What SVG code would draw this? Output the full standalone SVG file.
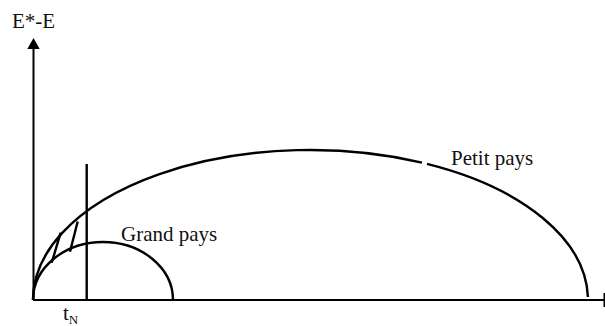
<svg xmlns="http://www.w3.org/2000/svg" width="605" height="326" viewBox="0 0 605 326">
  <style>
    .ln { fill: none; stroke: #000; stroke-width: 2.4; stroke-linecap: butt; }
    .ax { fill: none; stroke: #000; stroke-width: 2; }
    text { fill: #111; }
  </style>
  <rect width="605" height="326" fill="#fff"/>
  <g id="axes">
    <line class="ax" x1="33.5" y1="48" x2="33.5" y2="300"/>
    <polygon points="33.5,38 27.3,49 39.7,49" fill="#000"/>
    <line class="ax" x1="33" y1="300" x2="605" y2="300"/>
    <line class="ax" x1="604.5" y1="293" x2="604.5" y2="307"/>
    <line class="ln" x1="86.7" y1="164" x2="86.7" y2="300"/>
  </g>
  <g id="petit-pays">
    <path class="ln" d="M33,300 A277.5,150 0 0 1 422,162.6"/>
    <path class="ln" d="M427,163.9 A277.5,150 0 0 1 587.9,297"/>
  </g>
  <g id="grand-pays">
    <path class="ln" d="M33,300 A70,58 0 0 1 173,300"/>
  </g>
  <g id="hatch">
    <line class="ln" x1="60.7" y1="232.7" x2="51.7" y2="262.7"/>
    <line class="ln" x1="77.7" y1="221.5" x2="70" y2="251.7"/>
  </g>
  <g id="labels" font-family="Liberation Serif, Times New Roman, serif" font-size="21">
    <text x="12" y="28">E*-E</text>
    <text x="121" y="241">Grand pays</text>
    <text x="451" y="165">Petit pays</text>
    <text x="63" y="320">t<tspan font-size="13" dy="4">N</tspan></text>
  </g>
</svg>
